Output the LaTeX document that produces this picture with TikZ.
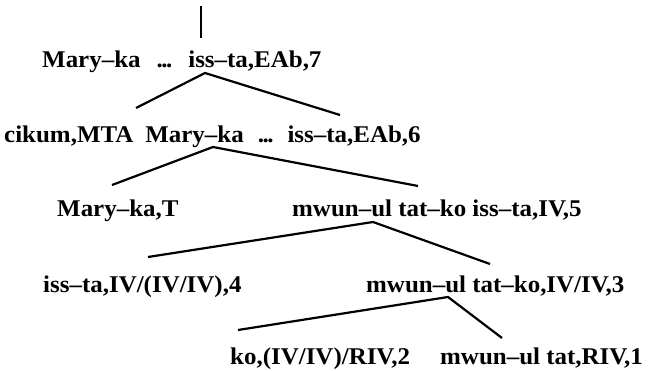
\documentclass[tikz,border=0pt]{standalone}
\usepackage{fontspec}
\newfontfamily\treefont{Liberation Serif}[FakeStretch=1.04]
% a tight three-dot ellipsis with wide gaps round it
\newcommand\gapdots[1]{\hspace{#1}.\kern-1.5pt.\kern-1.5pt.\hspace{#1}}
\begin{document}
\begin{tikzpicture}[x=1pt,y=-1pt,
  lbl/.style={inner sep=0pt,anchor=base west,font=\treefont\bfseries\fontsize{24}{28}\selectfont},
  branch/.style={line width=2.2pt}]
\useasboundingbox (0,0) rectangle (650,371);

% category labels, one row per level (base line positions)
\node[lbl] (r7) at (42,68)  {Mary–ka\gapdots{16pt}iss–ta,EAb,7};
\node[lbl] (r6) at (4,143)  {cikum,MTA\hspace{12pt}Mary–ka\gapdots{14pt}iss–ta,EAb,6};
\node[lbl] (rT) at (57,217) {Mary–ka,T};
\node[lbl] (r5) at (292,217) {mwun–ul tat–ko iss–ta,IV,5};
\node[lbl] (r4) at (43,292) {iss–ta,IV/(IV/IV),4};
\node[lbl] (r3) at (366,292) {mwun–ul tat–ko,IV/IV,3};
\node[lbl] (r2) at (230,364) {ko,(IV/IV)/RIV,2};
\node[lbl] (r1) at (440,364) {mwun–ul tat,RIV,1};

% branching points and branch ends
\coordinate (top) at (201,6);
\coordinate (t7) at (201,38);
\coordinate (a7) at (205,73);
\coordinate (l7) at (136,108);
\coordinate (e7) at (340,115);
\coordinate (a6) at (213,147);
\coordinate (l6) at (112,185);
\coordinate (e6) at (418,186);
\coordinate (a5) at (373,222);
\coordinate (l5) at (148,257);
\coordinate (e5) at (490,264);
\coordinate (a3) at (448,297);
\coordinate (l3) at (238,330);
\coordinate (e3) at (502,338);

\draw[branch] (top) -- (t7);
\draw[branch] (l7) -- (a7) -- (e7);
\draw[branch] (l6) -- (a6) -- (e6);
\draw[branch] (l5) -- (a5) -- (e5);
\draw[branch] (l3) -- (a3) -- (e3);
\end{tikzpicture}
\end{document}
